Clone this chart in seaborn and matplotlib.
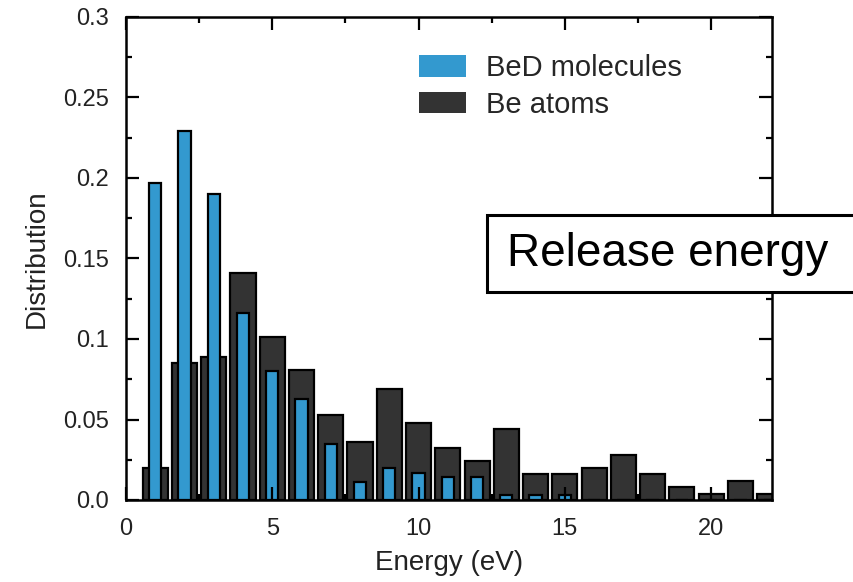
import numpy as np
import pandas as pd
import matplotlib
matplotlib.use("Agg")
import matplotlib.pyplot as plt
from matplotlib.patches import Patch, Rectangle
from matplotlib.ticker import MultipleLocator, FixedLocator, FixedFormatter
import seaborn as sns

# Release-energy histograms (1 eV bins)
energy = list(range(1, 23))
be_atoms = [0.020, 0.085, 0.089, 0.141, 0.101, 0.081, 0.053, 0.036, 0.069, 0.048,
            0.032, 0.024, 0.044, 0.016, 0.016, 0.020, 0.028, 0.016, 0.008, 0.004,
            0.012, 0.004]
bed_molecules = [0.197, 0.229, 0.190, 0.116, 0.080, 0.063, 0.035, 0.011, 0.020, 0.017,
                 0.014, 0.014, 0.003, 0.003, 0.003, 0.0, 0.0, 0.0, 0.0, 0.0,
                 0.0, 0.0]
y_ticks = [0.0, 0.05, 0.1, 0.15, 0.2, 0.25, 0.3]
y_tick_labels = ["0.0", "0.05", "0.1", "0.15", "0.2", "0.25", "0.3"]
x_ticks = [0, 5, 10, 15, 20]

sns.set_theme(style="white")
plt.rcParams["font.family"] = ["Liberation Sans", "DejaVu Sans"]

BLUE = "#3399cf"
DARK = "#333333"

df = pd.DataFrame({"energy": energy, "atoms": be_atoms, "molecules": bed_molecules})

W, H = 854, 582
fig = plt.figure(figsize=(W / 100, H / 100), dpi=100)
ax = fig.add_axes([126 / W, 82 / H, 646 / W, 483 / H])

sns.barplot(data=df, x="energy", y="atoms", native_scale=True, width=0.86,
            color=DARK, saturation=1, edgecolor="black", linewidth=1.6, ax=ax, zorder=1.5)
sns.barplot(data=df, x="energy", y="molecules", native_scale=True, width=0.42,
            color=BLUE, saturation=1, edgecolor="black", linewidth=1.6, ax=ax, zorder=2)

ax.set_xlim(0, 22.08)
ax.set_ylim(0, 0.3)
ax.xaxis.set_major_locator(FixedLocator(x_ticks))
ax.xaxis.set_major_formatter(FixedFormatter([str(t) for t in x_ticks]))
ax.xaxis.set_minor_locator(MultipleLocator(2.5))
ax.yaxis.set_major_locator(FixedLocator(y_ticks))
ax.yaxis.set_major_formatter(FixedFormatter(y_tick_labels))
ax.yaxis.set_minor_locator(MultipleLocator(0.025))

# ticks point inward on all four sides and sit above the bars
ax.set_axisbelow(False)
ax.tick_params(which="both", direction="in", top=True, right=True, bottom=True, left=True,
               width=1.6, color="black")
ax.tick_params(which="major", length=9.5, labelsize=17, labelcolor="#222222")
ax.tick_params(axis="x", which="major", pad=13)
ax.tick_params(axis="y", which="major", pad=12)
ax.tick_params(which="minor", length=4.5)
for s in ax.spines.values():
    s.set_visible(True)
    s.set_linewidth(1.8)
    s.set_color("black")
    s.set_zorder(10)

ax.set_xlabel("Energy (eV)", fontsize=20, color="#222222", labelpad=7)
ax.set_ylabel("Distribution", fontsize=20, color="#222222", labelpad=10)

handles = [Patch(facecolor=BLUE, edgecolor="none", label="BeD molecules"),
           Patch(facecolor=DARK, edgecolor="none", label="Be atoms")]
ax.legend(handles=handles, loc="upper left", bbox_to_anchor=(419 / W, 1 - 54 / H),
          bbox_transform=fig.transFigure, frameon=False, fontsize=21,
          handlelength=1.6, handleheight=0.75, handletextpad=0.7,
          labelspacing=0.3, borderpad=0, borderaxespad=0)

# Annotation box, running off the right edge of the figure
fig.patches.append(Rectangle((487 / W, 1 - 292 / H), 400 / W, 77 / H,
                             transform=fig.transFigure, facecolor="white",
                             edgecolor="black", linewidth=2.2, zorder=20))
fig.text(507 / W, 1 - 254 / H, "Release energy", fontsize=33, color="black",
         ha="left", va="center", zorder=21)

fig.savefig("out.png", dpi=100)
